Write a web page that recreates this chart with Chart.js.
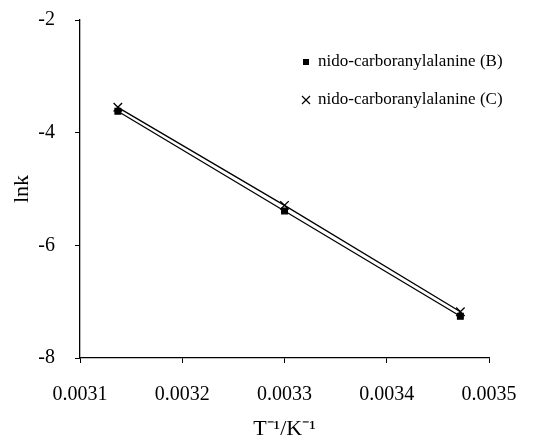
<!DOCTYPE html>
<html>
<head>
    <meta charset="utf-8" />
    <title>lnk vs 1/T</title>
    <script src="https://cdn.jsdelivr.net/npm/chart.js@4/dist/chart.umd.min.js"></script>
    <style>
        html, body { margin: 0; padding: 0; background: #fff; }
        #wrap { width: 549px; height: 442px; }
    </style>
</head>
<body>
    <div id="wrap">
        <canvas id="chart-arr" width="549" height="442"></canvas>
    </div>

    <script>
      // data
      var invT = [0.003137, 0.0033, 0.003472];
      var lnkB = [-3.62, -5.39, -7.26];
      var lnkC = [-3.55, -5.29, -7.18];
      var labelB = "nido-carboranylalanine (B)";
      var labelC = "nido-carboranylalanine (C)";
      var xTicks = [0.0031, 0.0032, 0.0033, 0.0034, 0.0035];
      var yTicks = [-8, -6, -4, -2];

      function pts(xs, ys) {
        return xs.map(function (x, i) { return { x: x, y: ys[i] }; });
      }

      var serif = "'Liberation Serif', 'Times New Roman', serif";

      // legend drawn by hand, top right inside plot
      var legendPlugin = {
        id: "handLegend",
        afterDraw: function (chart) {
          var ctx = chart.ctx;
          var items = chart.data.datasets;
          var x0 = 306, y0 = 62, gap = 38;
          ctx.save();
          ctx.font = "17px " + serif;
          ctx.fillStyle = "#000";
          ctx.strokeStyle = "#000";
          ctx.textBaseline = "middle";
          items.forEach(function (ds, i) {
            var y = y0 + i * gap;
            if (ds.pointStyle === "rect") {
              ctx.fillRect(x0 - 3, y - 3, 6, 6);
            } else {
              ctx.lineWidth = 1.2;
              ctx.beginPath();
              ctx.moveTo(x0 - 4, y - 4); ctx.lineTo(x0 + 4, y + 4);
              ctx.moveTo(x0 + 4, y - 4); ctx.lineTo(x0 - 4, y + 4);
              ctx.stroke();
            }
            ctx.fillText(ds.label, x0 + 12, y);
          });
          ctx.restore();
        }
      };

      var ctx1 = document.getElementById("chart-arr").getContext("2d");
      new Chart(ctx1, {
        type: "scatter",
        data: {
          datasets: [{
            label: labelB,
            data: pts(invT, lnkB),
            showLine: true,
            borderColor: "#000",
            borderWidth: 1.3,
            pointStyle: "rect",
            pointRadius: 4,
            pointBackgroundColor: "#000",
            pointBorderColor: "#000"
          }, {
            label: labelC,
            data: pts(invT, lnkC),
            showLine: true,
            borderColor: "#000",
            borderWidth: 1.3,
            pointStyle: "crossRot",
            pointRadius: 6,
            pointBorderWidth: 1.3,
            pointBorderColor: "#000",
            pointBackgroundColor: "#000"
          }]
        },
        options: {
          responsive: false,
          animation: false,
          layout: { padding: { top: 20, right: 60, bottom: 0, left: 0 } },
          plugins: {
            legend: { display: false },
            tooltip: { enabled: false }
          },
          scales: {
            x: {
              type: "linear",
              min: 0.0031,
              max: 0.0035,
              afterBuildTicks: function (s) { s.ticks = xTicks.map(function (v) { return { value: v }; }); },
              afterFit: function (s) { s.height = 84; },
              border: { display: true, color: "#000", width: 1.3 },
              grid: { display: true, drawOnChartArea: false, drawTicks: true, tickLength: 5, color: "#000" },
              ticks: {
                color: "#000",
                padding: 20,
                maxRotation: 0,
                font: { family: serif, size: 20 },
                callback: function (v) { return v.toFixed(4); }
              },
              title: {
                display: true,
                text: "T\u207B\u00B9/K\u207B\u00B9",
                color: "#000",
                font: { family: serif, size: 22 },
                padding: { top: 0, bottom: 0 }
              }
            },
            y: {
              min: -8,
              max: -2,
              afterBuildTicks: function (s) { s.ticks = yTicks.map(function (v) { return { value: v }; }); },
              afterFit: function (s) {
                s.width = 80;
                // don't let label padding push the plot top down
                s.paddingTop = 0;
                s.paddingBottom = 0;
              },
              border: { display: true, color: "#000", width: 1.3 },
              grid: { display: true, drawOnChartArea: false, drawTicks: true, tickLength: 5, color: "#000" },
              ticks: {
                color: "#000",
                padding: 20,
                font: { family: serif, size: 20 }
              },
              title: {
                display: true,
                text: "lnk",
                color: "#000",
                font: { family: serif, size: 22 },
                padding: { top: 9, bottom: 0 }
              }
            }
          }
        },
        plugins: [legendPlugin]
      });
    </script>
</body>
</html>
